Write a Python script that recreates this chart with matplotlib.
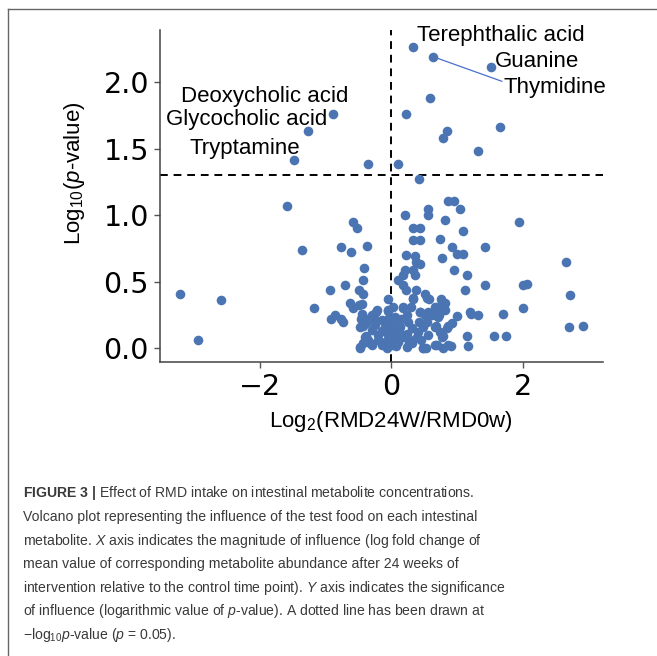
import numpy as np
import matplotlib
matplotlib.use('Agg')
import matplotlib.pyplot as plt
from matplotlib.lines import Line2D

plt.rcParams['mathtext.fontset'] = 'custom'
plt.rcParams['mathtext.rm'] = 'Liberation Sans'
plt.rcParams['mathtext.it'] = 'Liberation Sans:italic'
plt.rcParams['mathtext.bf'] = 'Liberation Sans:bold'

# log2 fold change / -log10 p-value of every metabolite
log2_fc = [
    # upper, significant
    0.334, 0.63, 1.51, 0.587, -0.89, 0.223, -1.264, 0.85, 0.78, 1.64, 1.316,
    -1.47, -0.36, 0.097,
    # left side
    -1.59, -3.20, -2.58, -2.94, -1.355, -0.76, -0.61, -0.364, -0.58, -0.52,
    -0.42, -0.43, -0.71, -0.93, -0.485, -0.435, -1.17, -0.915, -0.855, -0.77,
    -0.73, -0.63, -0.58, -0.485, -0.44, -0.44, -0.46, -0.435, -0.385, -0.425,
    -0.48, -0.33, -0.32, -0.23, -0.056, -0.046, -0.06,
    # right side
    0.425, 0.865, 0.946, 1.04, 0.56, 0.56, 0.21, 0.81, 1.94, 0.33, 0.435,
    1.08, 0.33, 0.435, 0.73, 0.915, 1.42, 0.99, 1.08, 0.22, 0.36, 0.77,
    0.435, 0.37, 2.65, 0.21, 0.335, 0.955, 1.14, 0.18, 0.36, 0.096, 0.18,
    0.22, 0.37, 1.12, 1.42, 1.99, 2.05, 2.71, 0.51, 0.575, 0.335, 0.75,
    0.82, 0.69, 0.03, 2.0, 1.2, 1.21, 1.32, 1.70, 0.99, 2.69, 2.90, 1.56,
    1.74, 1.14, 1.16, 0.905,
    0.435, 0.56, 0.61, 0.72, 0.425, 0.54, 0.68, 0.855, 0.915, 0.78, 0.69,
    0.485, 0.525, 0.74, 0.79, 0.23, 0.31, 0.26, 0.066, 0.056, 0.13, 0.18,
    0.30,
    # dense centre
    0.33, 0.536, -0.22, -0.045, 0.18, 0.435, 0.66, 0.815, -0.45, -0.30,
    -0.146, 0.055, 0.23, 0.51, 0.71, -0.475, -0.25, -0.096, 0.106, 0.31,
    0.486, 0.66, 0.84, -0.40, -0.20, -0.045, 0.18, 0.385, 0.56, 0.764,
    -0.475, -0.30, -0.146, 0.005, 0.23, 0.486, 0.66, 0.865,
    -0.10, -0.20, 0.10, -0.15, 0.0, -0.05, 0.12, -0.30, 0.25, 0.02,
    -0.35, -0.12, 0.08, 0.28, 0.40, -0.02, -0.25, 0.15, 0.45, -0.38,
]
neg_log10_p = [
    2.26, 2.19, 2.11, 1.88, 1.76, 1.76, 1.63, 1.63, 1.58, 1.66, 1.48,
    1.415, 1.385, 1.385,
    1.07, 0.41, 0.36, 0.065, 0.74, 0.76, 0.72, 0.77, 0.95, 0.90,
    0.60, 0.51, 0.475, 0.44, 0.44, 0.41, 0.30, 0.22, 0.25, 0.22,
    0.195, 0.34, 0.30, 0.325, 0.335, 0.26, 0.22, 0.17, 0.09, 0.04,
    0.0, 0.04, 0.23, 0.275, 0.37, 0.28, 0.0,
    1.27, 1.105, 1.105, 1.05, 1.05, 1.0, 1.0, 0.96, 0.95, 0.90, 0.90,
    0.88, 0.81, 0.81, 0.82, 0.76, 0.76, 0.71, 0.71, 0.70, 0.69, 0.68,
    0.635, 0.65, 0.65, 0.59, 0.59, 0.59, 0.55, 0.55, 0.55, 0.51, 0.475,
    0.44, 0.44, 0.44, 0.475, 0.475, 0.485, 0.40, 0.405, 0.37, 0.37, 0.37,
    0.34, 0.31, 0.31, 0.30, 0.27, 0.26, 0.25, 0.26, 0.24, 0.16, 0.17, 0.09,
    0.09, 0.09, 0.02, 0.02,
    0.275, 0.275, 0.25, 0.25, 0.20, 0.20, 0.17, 0.17, 0.19, 0.005, 0.025,
    0.005, 0.005, 0.12, 0.09, 0.11, 0.04, 0.04, 0.02, 0.09, 0.16, 0.31,
    0.31,
    0.375, 0.38, 0.287, 0.287, 0.30, 0.275, 0.31, 0.29, 0.237, 0.25,
    0.212, 0.237, 0.25, 0.25, 0.237, 0.162, 0.175, 0.162, 0.175, 0.15,
    0.162, 0.162, 0.15, 0.087, 0.10, 0.10, 0.087, 0.087, 0.10, 0.087,
    0.012, 0.025, 0.025, 0.025, 0.012, 0.005, 0.025, 0.025,
    0.05, 0.06, 0.05, 0.13, 0.19, 0.22, 0.12, 0.14, 0.20, 0.06,
    0.06, 0.04, 0.13, 0.06, 0.12, 0.14, 0.21, 0.22, 0.06, 0.19,
]

# named metabolites and where their labels sit (data coords, left edge)
label_names = ['Terephthalic acid', 'Guanine', 'Thymidine',
               'Deoxycholic acid', 'Glycocholic acid', 'Tryptamine']
label_x = [0.385, 1.574, 1.70, -3.196, -3.42, -3.065]
label_y = [2.35, 2.157, 1.96, 1.893, 1.718, 1.50]
# Thymidine connector: from the point to its label
thym_pt = (0.63, 2.19)
thym_lab = (1.675, 2.005)

P_CUT = -np.log10(0.05)

caption = [
    r'$\mathbf{FIGURE\ 3\ |}$ Effect of RMD intake on intestinal metabolite concentrations.',
    'Volcano plot representing the influence of the test food on each intestinal',
    r'metabolite. $\mathit{X}$ axis indicates the magnitude of influence (log fold change of',
    'mean value of corresponding metabolite abundance after 24 weeks of',
    r'intervention relative to the control time point). $\mathit{Y}$ axis indicates the significance',
    r'of influence (logarithmic value of $\mathit{p}$-value). A dotted line has been drawn at',
    '\u2212log$_{10}$$\\mathit{p}$-value ($\\mathit{p}$ = 0.05).',
]

W, H = 657, 656
fig = plt.figure(figsize=(W / 100, H / 100), dpi=100)
ax = fig.add_axes([160 / W, 1 - 361.7 / H, 443 / W, 331.7 / H])

ax.scatter(log2_fc, neg_log10_p, s=48, color='#4a74b2', linewidths=0, zorder=3)
ax.axhline(P_CUT, color='black', linestyle='--', linewidth=1.4, dashes=(4, 3), zorder=2)
ax.axvline(0, color='black', linestyle='--', linewidth=1.4, dashes=(4, 3), zorder=2)

for name, lx, ly in zip(label_names, label_x, label_y):
    ax.text(lx, ly, name, fontsize=16, family='Liberation Sans',
            ha='left', va='center', zorder=4)
ax.plot([thym_pt[0], thym_lab[0]], [thym_pt[1], thym_lab[1]],
        color='#4a6fd0', linewidth=0.9, zorder=2)

ax.set_xlim(-3.51, 3.21)
ax.set_ylim(-0.1, 2.39)
ax.set_xticks([-2, 0, 2])
ax.set_yticks([0.0, 0.5, 1.0, 1.5, 2.0])
ax.set_yticklabels(['0.0', '0.5', '1.0', '1.5', '2.0'])
ax.tick_params(labelsize=20.5, length=4, width=1, color='#555555', pad=4)
for side in ['top', 'right']:
    ax.spines[side].set_visible(False)
for side in ['left', 'bottom']:
    ax.spines[side].set_color('#444444')
    ax.spines[side].set_linewidth(1.1)

ax.set_xlabel(r'Log$_{2}$(RMD24W/RMD0w)', fontsize=16,
              family='Liberation Sans', va='center')
ax.xaxis.set_label_coords(0.522, -0.181)
ax.set_ylabel(r'Log$_{10}$($\mathit{p}$-value)', fontsize=16,
              family='Liberation Sans', va='center')
ax.yaxis.set_label_coords(-0.192, 0.569)

# figure frame (top + left edges)
fig.add_artist(Line2D([8 / W, 8 / W], [0, 1 - 9 / H], color='#666666', linewidth=1))
fig.add_artist(Line2D([8 / W, 1], [1 - 9 / H, 1 - 9 / H], color='#666666', linewidth=1))

for i, line in enumerate(caption):
    fig.text(23 / W, 1 - (497.3 + i * 23.6) / H, line, fontsize=10.1,
             family='Liberation Sans', color='#3a3a3a',
             ha='left', va='baseline')

fig.savefig('out.png', dpi=100)
